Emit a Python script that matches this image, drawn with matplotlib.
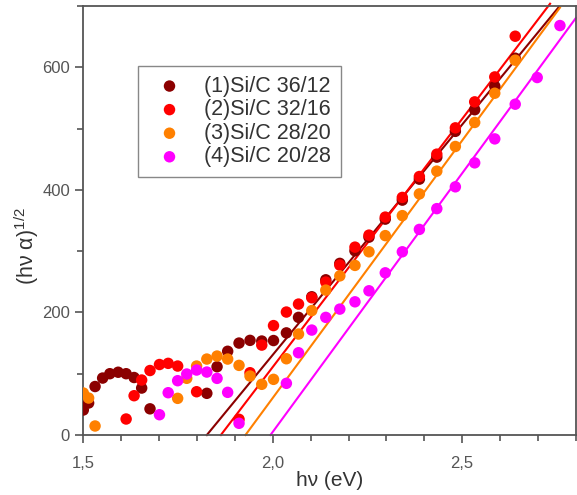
import numpy as np
import matplotlib
matplotlib.use("Agg")
import matplotlib.pyplot as plt
from matplotlib.ticker import MultipleLocator, FuncFormatter

plt.rcParams['font.family'] = ['Liberation Sans', 'DejaVu Sans']
plt.rcParams['mathtext.fontset'] = 'custom'
plt.rcParams['mathtext.rm'] = 'Liberation Sans'
plt.rcParams['mathtext.it'] = 'Liberation Sans'

nan = np.nan

# photon energy grid (eV), shared by all samples
hv = [1.500, 1.514, 1.531, 1.551, 1.570, 1.592, 1.613, 1.634, 1.654, 1.676,
      1.701, 1.724, 1.749, 1.773, 1.799, 1.826, 1.853, 1.881, 1.911, 1.940,
      1.971, 2.002, 2.036, 2.068, 2.103, 2.140, 2.177, 2.217, 2.254, 2.297,
      2.342, 2.387, 2.433, 2.482, 2.533, 2.586, 2.640, 2.698, 2.758]

# (hv*alpha)^1/2 for each sample, NaN where no point is shown
s1 = [40.8, 52.2, 79.1, 92.9, 100.0, 102.4, 100.0, 93.8, 76.6, 42.7,
      nan, nan, nan, nan, nan, 68.0, 111.4, 136.6, 150.0, 154.4,
      153.3, 154.1, 166.6, 191.9, 225.5, 253.2, 280.0, 300.5, 322.8, 352.2,
      383.2, 417.4, 453.3, 495.4, 530.7, 569.1, 614.7, nan, nan]
s2 = [nan, nan, nan, nan, nan, nan, 26.1, 64.1, 89.7, 105.2,
      115.0, 116.9, 112.5, nan, 70.6, nan, nan, nan, 25.6, 101.6,
      146.7, 178.5, 200.6, 213.6, 223.9, 249.5, 277.2, 306.5, 326.1, 355.5,
      387.6, 421.7, 458.2, 501.1, 543.5, 584.2, 650.6, nan, nan]
s3 = [68.5, 60.3, 14.7, nan, nan, nan, nan, nan, nan, nan,
      nan, nan, 59.8, 92.5, 112.5, 123.9, 128.8, 123.9, 113.6, 96.2,
      82.7, 90.8, 124.4, 164.7, 203.0, 236.4, 259.6, 276.7, 298.9, 325.3,
      357.9, 393.3, 430.5, 470.7, 509.9, 557.6, 611.5, nan, nan]
s4 = [nan, nan, nan, nan, nan, nan, nan, nan, nan, nan,
      33.1, 69.0, 88.6, 99.5, 106.0, 102.7, 92.4, 69.6, 19.1, nan,
      nan, nan, 84.3, 134.2, 171.2, 191.9, 205.4, 217.3, 235.3, 264.6,
      298.9, 335.4, 369.3, 404.9, 444.0, 483.1, 539.7, 583.2, 668.0]

labels = ['(1)Si/C 36/12', '(2)Si/C 32/16', '(3)Si/C 28/20', '(4)Si/C 20/28']
colors = ['#8b0000', '#ff0000', '#ff8000', '#ff00ff']

# linear (Tauc) fits: x-intercept (band gap), slope, end of drawn line
gap = [1.826, 1.863, 1.928, 1.994]
slope = [751.5, 809.7, 840.0, 844.0]
fit_end = [2.755, 2.732, 2.758, 2.80]

fig = plt.figure(figsize=(5.77, 4.95), dpi=100)
ax = fig.add_axes([0.1444, 0.1212, 0.8536, 0.8668])

for ys, lab, c in zip([s1, s2, s3, s4], labels, colors):
    ax.scatter(hv, ys, s=68, color=c, edgecolors='none', label=lab, zorder=3)

for g, k, xe, c in zip(gap, slope, fit_end, colors):
    xl = np.array([g, xe])
    ax.plot(xl, k * (xl - g), color=c, lw=1.5, zorder=2, clip_on=False)

ax.set_xlim(1.5, 2.8)
ax.set_ylim(0, 700)
ax.xaxis.set_major_locator(MultipleLocator(0.5))
ax.xaxis.set_minor_locator(MultipleLocator(0.1))
ax.yaxis.set_major_locator(MultipleLocator(200))
ax.yaxis.set_minor_locator(MultipleLocator(100))
ax.xaxis.set_major_formatter(FuncFormatter(lambda v, p: f'{v:.1f}'.replace('.', ',')))

gray = '#555555'
for sp in ax.spines.values():
    sp.set_color(gray)
    sp.set_linewidth(1.3)
ax.tick_params(which='both', direction='out', color=gray, width=1.2,
               labelsize=12, labelcolor='#555555')
ax.tick_params(which='major', length=6)
ax.tick_params(which='minor', length=4)
ax.tick_params(axis='x', which='major', pad=9)

ax.set_xlabel('hν (eV)', fontsize=15, color='#333333', labelpad=0)
ax.set_ylabel('(hν α)$^{1/2}$', fontsize=15.5, color='#333333')
ax.yaxis.set_label_coords(-0.085, 0.44)

leg = ax.legend(loc='upper left', bbox_to_anchor=(0.1116, 0.86), borderaxespad=0,
                fontsize=15.5, labelspacing=0.12, handletextpad=0.6,
                borderpad=0.45, fancybox=False, framealpha=1, scatterpoints=1)
leg.get_frame().set_edgecolor('#888888')
leg.get_frame().set_linewidth(1.0)
for t in leg.get_texts():
    t.set_color('#333333')

fig.savefig('out.png', dpi=100)
